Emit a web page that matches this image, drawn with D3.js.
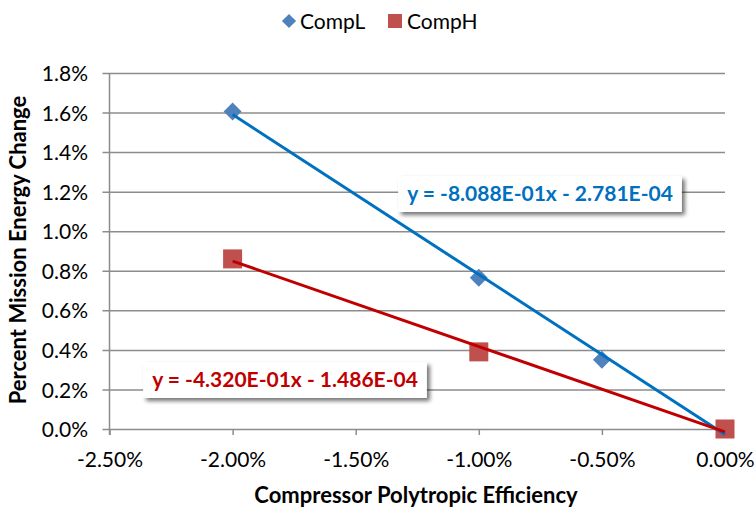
<!DOCTYPE html>
<html><head><meta charset="utf-8">
<script src="https://cdn.jsdelivr.net/npm/d3@7"></script>
<style>body{margin:0;background:#fff}svg{display:block}text{font-family:Lato,"Open Sans",sans-serif}</style>
</head><body>
<svg id="c" width="755" height="510"></svg>
<script>
const seriesNames = ["CompL", "CompH"];
const compLX = [-0.02, -0.01, -0.005, 0.0];
const compLY = [0.01605, 0.00765, 0.0035, 0.0];
const compHX = [-0.02, -0.01, 0.0];
const compHY = [0.0086, 0.0039, 0.0];
const slopes = [-0.8088, -0.4320];
const intercepts = [-0.0002781, -0.0001486];
const trendRange = [-0.02, 0.0];
const equations = ["y = -8.088E-01x - 2.781E-04", "y = -4.320E-01x - 1.486E-04"];
const xTicks = [-0.025, -0.02, -0.015, -0.01, -0.005, 0];
const yTicks = [0, 0.002, 0.004, 0.006, 0.008, 0.010, 0.012, 0.014, 0.016, 0.018];

const svg = d3.select("#c");
const defs = svg.append("defs");
const f = defs.append("filter").attr("id","sh").attr("x","-10%").attr("y","-30%").attr("width","130%").attr("height","180%");
f.append("feGaussianBlur").attr("in","SourceAlpha").attr("stdDeviation",2.2);
f.append("feOffset").attr("dx",3).attr("dy",3).attr("result","ob");
f.append("feComponentTransfer").append("feFuncA").attr("type","linear").attr("slope",0.55);
const fm = f.append("feMerge"); fm.append("feMergeNode"); fm.append("feMergeNode").attr("in","SourceGraphic");

const x = d3.scaleLinear().domain([-0.025, 0]).range([109.5, 725]);
const y = d3.scaleLinear().domain([0, 0.018]).range([429, 73]);
const gridC = "#8c8c8c";

// gridlines + y ticks
const yAxis = d3.axisLeft(y).tickValues(yTicks).tickSize(-(725-109.5)).tickPadding(14)
  .tickFormat(d => (d*100).toFixed(1) + "%");
const gy = svg.append("g").attr("transform","translate(109.5,0)").call(yAxis);
gy.select(".domain").remove();
gy.selectAll(".tick line").attr("stroke",gridC).attr("stroke-width",1.5).attr("x1",-7);
gy.selectAll(".tick text").attr("font-size",21).attr("fill","#000").attr("dy","0.36em").attr("x",-21.5);

// x axis
const xAxis = d3.axisBottom(x).tickValues(xTicks).tickSize(6).tickPadding(10)
  .tickFormat(d => (d*100).toFixed(2) + "%");
const gx = svg.append("g").attr("transform","translate(0,429)").call(xAxis);
gx.select(".domain").remove();
gx.selectAll(".tick line").attr("stroke",gridC).attr("stroke-width",1.5);
gx.selectAll(".tick text").attr("font-size",21).attr("fill","#000").attr("y",38).attr("dy",0);

// y axis line
svg.append("line").attr("x1",109.5).attr("x2",109.5).attr("y1",73).attr("y2",435).attr("stroke",gridC).attr("stroke-width",1.5);

// titles
svg.append("text").attr("x",416).attr("y",503).attr("text-anchor","middle").attr("font-size",22).attr("font-weight","bold").text("Compressor Polytropic Efficiency");
svg.append("text").attr("transform","translate(26,250) rotate(-90)").attr("text-anchor","middle").attr("font-size",22).attr("font-weight","bold").text("Percent Mission Energy Change");

// markers
const diamond = d3.symbol().type(d3.symbolSquare).size(160);
svg.append("g").selectAll("path").data(compLX.map((v,i)=>[v,compLY[i]])).join("path")
  .attr("d",diamond).attr("fill","#4F81BD")
  .attr("transform",d=>`translate(${x(d[0])},${y(d[1])}) rotate(45)`);
svg.append("g").selectAll("rect").data(compHX.map((v,i)=>[v,compHY[i]])).join("rect")
  .attr("x",d=>x(d[0])-9.5).attr("y",d=>y(d[1])-9.5).attr("width",19).attr("height",19).attr("fill","#C0504D");

// trendlines
const lineCols = ["#0070C0", "#C00000"];
slopes.forEach((s,i)=>{
  svg.append("line").attr("x1",x(trendRange[0])).attr("y1",y(s*trendRange[0]+intercepts[i]))
    .attr("x2",x(trendRange[1])).attr("y2",y(s*trendRange[1]+intercepts[i]))
    .attr("stroke",lineCols[i]).attr("stroke-width",3);
});

// equation labels
const eqPos = [[540, 194], [285, 380]];
equations.forEach((t,i)=>{
  const g = svg.append("g");
  const tx = g.append("text").attr("x",eqPos[i][0]).attr("y",eqPos[i][1]).attr("dy","0.35em")
    .attr("text-anchor","middle").attr("font-size",21).attr("font-weight","bold").attr("fill",lineCols[i]).text(t);
  const bb = tx.node().getBBox();
  g.insert("rect","text").attr("x",bb.x-9).attr("y",eqPos[i][1]-18).attr("width",bb.width+18).attr("height",36)
    .attr("fill","#fff").attr("filter","url(#sh)");
});

// legend
const lg = svg.append("g");
lg.append("path").attr("d",d3.symbol().type(d3.symbolSquare).size(100)).attr("fill","#4F81BD").attr("transform","translate(289,21) rotate(45)");
lg.append("text").attr("x",300).attr("y",21).attr("dy","0.36em").attr("font-size",21).text(seriesNames[0]);
lg.append("rect").attr("x",388).attr("y",14).attr("width",14).attr("height",14).attr("fill","#C0504D");
lg.append("text").attr("x",407).attr("y",21).attr("dy","0.36em").attr("font-size",21).text(seriesNames[1]);
</script>
</body></html>
